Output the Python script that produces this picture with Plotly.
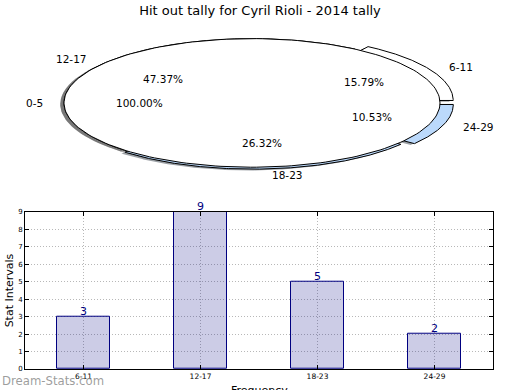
import numpy as np
import plotly.graph_objects as go

# ---- data ----
title = "Hit out tally for Cyril Rioli - 2014 tally"
pie_outer_labels = ["0-5"]
pie_outer_values = [1]
categories = ["6-11", "12-17", "18-23", "24-29"]
counts = [3, 9, 5, 2]
explode = [0.08, 0.0, 0.03, 0.075]
wedge_colors = ["#ffffff", "#ffffff", "#bbd9fb", "#bbd9fb"]
y_ticks = list(range(0, 10))

# ---- geometry helpers (pixel layout of the figure) ----
W, H = 520, 390
ML, MR, MT, MB = 25, 27, 0, 21
PW, PH = W - ML - MR, H - MT - MB
cx_px, cy_px, rx_px, ry_px = 252, 100, 188, 65
pie_bottom_px = 200
bar_top_px = 210

def px_to_x2(px):
    return (px - cx_px) / rx_px

def py_to_y2(py):
    return (cy_px - py) / ry_px

def wedge(t1, t2, cx=0.0, cy=0.0, full=False, n=200):
    th = np.radians(np.linspace(t1, t2, n))
    xs = cx + np.cos(th)
    ys = cy + np.sin(th)
    if not full:
        xs = np.concatenate([[cx], xs, [cx]])
        ys = np.concatenate([[cy], ys, [cy]])
    return xs, ys

fig = go.Figure()

total = sum(counts)
angles = np.concatenate([[0], np.cumsum(counts) / total * 360.0])
shadow_dx, shadow_dy = -0.02, -0.02

def shade(hexcol):
    h = hexcol.lstrip("#")
    r, g, b = [int(h[i:i + 2], 16) for i in (0, 2, 4)]
    return f"rgba({int(r*0.3)},{int(g*0.3)},{int(b*0.3)},0.5)"

wedges = []
for i, c in enumerate(counts):
    t1, t2 = angles[i], angles[i + 1]
    mid = np.radians((t1 + t2) / 2)
    ox, oy = explode[i] * np.cos(mid), explode[i] * np.sin(mid)
    wedges.append((t1, t2, ox, oy, wedge_colors[i], False))
wedges.append((0, 360, 0.0, 0.0, "#ffffff", True))

# shadows first
for t1, t2, ox, oy, col, full in wedges:
    xs, ys = wedge(t1, t2, ox + shadow_dx, oy + shadow_dy, full)
    fig.add_trace(go.Scatter(x=xs, y=ys, xaxis="x2", yaxis="y2", mode="lines",
                             fill="toself", fillcolor=shade(col),
                             line=dict(width=0, color="rgba(0,0,0,0)"),
                             hoverinfo="skip", showlegend=False))
for t1, t2, ox, oy, col, full in wedges:
    xs, ys = wedge(t1, t2, ox, oy, full)
    fig.add_trace(go.Scatter(x=xs, y=ys, xaxis="x2", yaxis="y2", mode="lines",
                             fill="toself", fillcolor=col,
                             line=dict(width=1, color="black"),
                             hoverinfo="skip", showlegend=False))

annotations = []
pie_font = dict(family="DejaVu Sans", size=10.5, color="black")

def pie_labels(lbl, t1, t2, e, pct):
    mid = np.radians((t1 + t2) / 2)
    ox, oy = e * np.cos(mid), e * np.sin(mid)
    lx, ly = ox + 1.1 * np.cos(mid), oy + 1.1 * np.sin(mid)
    annotations.append(dict(x=lx, y=ly, xref="x2", yref="y2", text=lbl,
                            showarrow=False, font=pie_font,
                            xanchor="left" if lx > 0 else "right", yanchor="middle"))
    annotations.append(dict(x=ox + 0.6 * np.cos(mid), y=oy + 0.6 * np.sin(mid),
                            xref="x2", yref="y2", text=pct, showarrow=False,
                            font=pie_font, xanchor="center", yanchor="middle"))

for i, lbl in enumerate(categories):
    pie_labels(lbl, angles[i], angles[i + 1], explode[i], f"{100*counts[i]/total:.2f}%")
tot_outer = sum(pie_outer_values)
pie_labels(pie_outer_labels[0], 0, 360, 0.0, f"{100*pie_outer_values[0]/tot_outer:.2f}%")

# ---- bar chart ----
fig.add_trace(go.Bar(x=categories, y=counts, width=0.45,
                     marker=dict(color="rgba(0,0,128,0.2)",
                                 line=dict(color="#000080", width=1)),
                     cliponaxis=False, hoverinfo="skip", showlegend=False))

for cat, c in zip(categories, counts):
    annotations.append(dict(x=cat, y=c, xref="x", yref="y", text=str(c), showarrow=False,
                            font=dict(family="DejaVu Sans", size=11, color="#000080"),
                            xanchor="center", yanchor="bottom", yshift=-3))

annotations.append(dict(x=0.5, y=0, xref="paper", yref="paper", yshift=-21,
                        text="Frequency", showarrow=False,
                        font=dict(family="DejaVu Sans", size=11, color="black"),
                        xanchor="center", yanchor="middle"))
annotations.append(dict(x=0, y=(H - MB - (bar_top_px + (H - MB)) / 2) / PH, xref="paper", yref="paper",
                        xshift=-16, text="Stat Intervals", textangle=-90, showarrow=False,
                        font=dict(family="DejaVu Sans", size=11, color="black"),
                        xanchor="center", yanchor="middle"))
annotations.append(dict(x=0, y=0, xref="paper", yref="paper", xshift=-ML, yshift=-12,
                        text="Dream-Stats.com", showarrow=False,
                        font=dict(family="DejaVu Sans", size=11.7, color="rgba(140,140,140,0.85)"),
                        xanchor="left", yanchor="middle"))

axis_common = dict(showline=True, linecolor="black", linewidth=1, mirror="all",
                   ticks="inside", ticklen=4, tickcolor="black",
                   showgrid=True, gridcolor="#b8b8b8", griddash="1px,2px", gridwidth=1,
                   zeroline=False)

fig.update_layout(
    width=W, height=H,
    margin=dict(l=ML, r=MR, t=MT, b=MB),
    paper_bgcolor="white", plot_bgcolor="white",
    title=dict(text=title, x=0.5, xanchor="center", y=1 - 10 / H, yanchor="middle",
               font=dict(family="DejaVu Sans", size=13, color="black")),
    xaxis=dict(domain=[0, 1], anchor="y", range=[-0.5, 3.5], type="category",
               tickfont=dict(family="DejaVu Sans", size=7.5, color="black"), **axis_common),
    yaxis=dict(domain=[0, (H - MB - bar_top_px) / PH], anchor="x", range=[0, 9],
               tickvals=y_ticks, tickfont=dict(family="DejaVu Sans", size=7, color="black"),
               **axis_common),
    xaxis2=dict(domain=[0, 1], anchor="y2", range=[px_to_x2(ML), px_to_x2(W - MR)],
                visible=False, fixedrange=True),
    yaxis2=dict(domain=[(H - MB - pie_bottom_px) / PH, 1], anchor="x2",
                range=[py_to_y2(pie_bottom_px), py_to_y2(MT)], visible=False, fixedrange=True),
    annotations=annotations,
    bargap=0,
)

fig.write_html("out.html", config={"displayModeBar": False},
               post_script="document.body.style.margin='0px';document.body.style.padding='0px';")
